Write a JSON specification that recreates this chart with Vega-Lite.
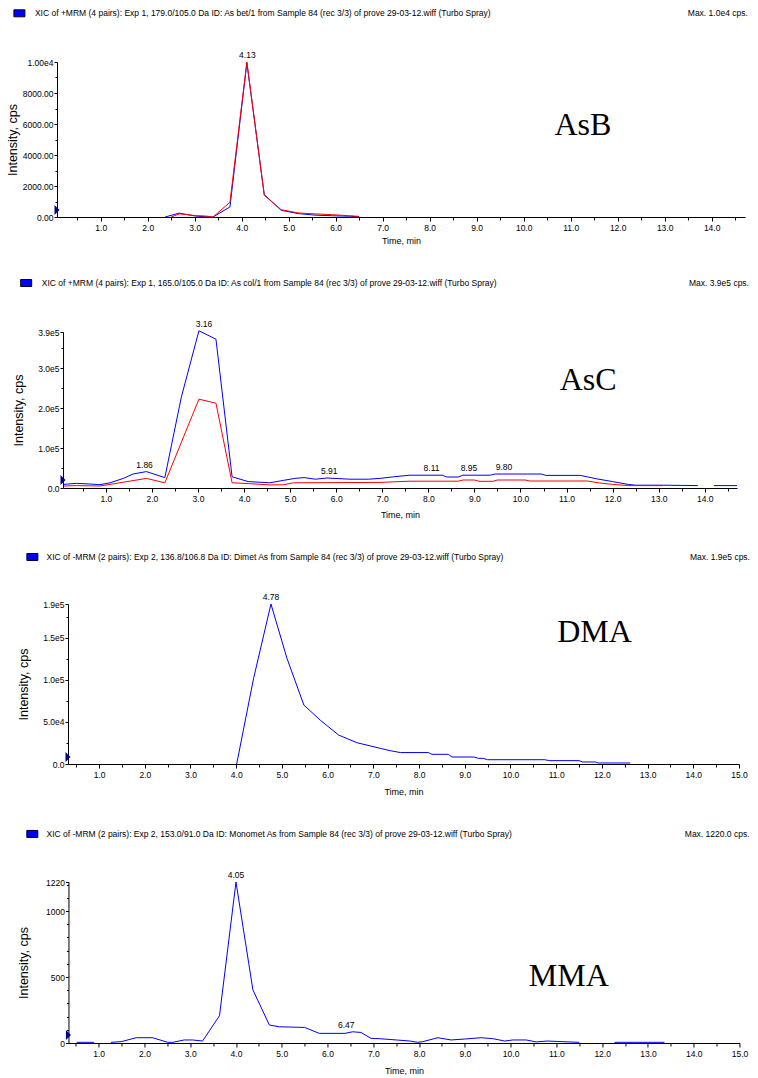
{
  "$schema": "https://vega.github.io/schema/vega-lite/v6.json",
  "background": "white",
  "padding": {"left": 6, "top": 7, "right": 0, "bottom": 0},
  "columns": 1,
  "center": true,
  "bounds": "full",
  "spacing": 32,
  "datasets": {
    "asb": [
      {"t": 2.37, "y": 0, "s": "blue", "g": "b1"}, {"t": 2.67, "y": 250, "s": "blue", "g": "b1"}, {"t": 2.9, "y": 120, "s": "blue", "g": "b1"}, {"t": 3.03, "y": 60, "s": "blue", "g": "b1"}, {"t": 3.2, "y": 20, "s": "blue", "g": "b1"}, {"t": 3.39, "y": 0, "s": "blue", "g": "b1"}, {"t": 3.75, "y": 650, "s": "blue", "g": "b1"}, {"t": 4.11, "y": 9950, "s": "blue", "g": "b1"}, {"t": 4.48, "y": 1450, "s": "blue", "g": "b1"}, {"t": 4.84, "y": 430, "s": "blue", "g": "b1"}, {"t": 5.2, "y": 220, "s": "blue", "g": "b1"}, {"t": 5.56, "y": 120, "s": "blue", "g": "b1"}, {"t": 5.93, "y": 80, "s": "blue", "g": "b1"}, {"t": 6.29, "y": 50, "s": "blue", "g": "b1"}, {"t": 6.5, "y": 20, "s": "blue", "g": "b1"},
      {"t": 2.5, "y": 0, "s": "red", "g": "r1"}, {"t": 2.67, "y": 200, "s": "red", "g": "r1"}, {"t": 2.85, "y": 150, "s": "red", "g": "r1"}, {"t": 3.03, "y": 80, "s": "red", "g": "r1"}, {"t": 3.2, "y": 70, "s": "red", "g": "r1"}, {"t": 3.39, "y": 0, "s": "red", "g": "r1"}, {"t": 3.75, "y": 950, "s": "red", "g": "r1"}, {"t": 4.11, "y": 10000, "s": "red", "g": "r1"}, {"t": 4.48, "y": 1400, "s": "red", "g": "r1"}, {"t": 4.84, "y": 470, "s": "red", "g": "r1"}, {"t": 5.2, "y": 260, "s": "red", "g": "r1"}, {"t": 5.56, "y": 200, "s": "red", "g": "r1"}, {"t": 5.93, "y": 150, "s": "red", "g": "r1"}, {"t": 6.29, "y": 80, "s": "red", "g": "r1"}, {"t": 6.5, "y": 40, "s": "red", "g": "r1"}
    ],
    "asb_pk": [{"t": 4.12, "y": 10000, "label": "4.13"}],
    "asc": [
      {"t": 0.09, "y": 9000, "s": "blue", "g": "b1"}, {"t": 0.36, "y": 11700, "s": "blue", "g": "b1"}, {"t": 0.65, "y": 10000, "s": "blue", "g": "b1"}, {"t": 0.87, "y": 8300, "s": "blue", "g": "b1"}, {"t": 1.09, "y": 13000, "s": "blue", "g": "b1"}, {"t": 1.38, "y": 24000, "s": "blue", "g": "b1"}, {"t": 1.59, "y": 35000, "s": "blue", "g": "b1"}, {"t": 1.88, "y": 41000, "s": "blue", "g": "b1"}, {"t": 2.28, "y": 26000, "s": "blue", "g": "b1"}, {"t": 2.64, "y": 228000, "s": "blue", "g": "b1"}, {"t": 3.02, "y": 393000, "s": "blue", "g": "b1"}, {"t": 3.39, "y": 372000, "s": "blue", "g": "b1"}, {"t": 3.74, "y": 28000, "s": "blue", "g": "b1"}, {"t": 4.09, "y": 16000, "s": "blue", "g": "b1"}, {"t": 4.56, "y": 13000, "s": "blue", "g": "b1"}, {"t": 4.85, "y": 19000, "s": "blue", "g": "b1"}, {"t": 5.1, "y": 24000, "s": "blue", "g": "b1"}, {"t": 5.3, "y": 26000, "s": "blue", "g": "b1"}, {"t": 5.55, "y": 22000, "s": "blue", "g": "b1"}, {"t": 5.8, "y": 25000, "s": "blue", "g": "b1"}, {"t": 6.3, "y": 22000, "s": "blue", "g": "b1"}, {"t": 6.7, "y": 22000, "s": "blue", "g": "b1"}, {"t": 6.95, "y": 24000, "s": "blue", "g": "b1"}, {"t": 7.24, "y": 28000, "s": "blue", "g": "b1"}, {"t": 7.6, "y": 32000, "s": "blue", "g": "b1"}, {"t": 8.3, "y": 32000, "s": "blue", "g": "b1"}, {"t": 8.4, "y": 27500, "s": "blue", "g": "b1"}, {"t": 8.65, "y": 27500, "s": "blue", "g": "b1"}, {"t": 8.75, "y": 32000, "s": "blue", "g": "b1"}, {"t": 9.35, "y": 32000, "s": "blue", "g": "b1"}, {"t": 9.45, "y": 35000, "s": "blue", "g": "b1"}, {"t": 10.45, "y": 35000, "s": "blue", "g": "b1"}, {"t": 10.55, "y": 31500, "s": "blue", "g": "b1"}, {"t": 11.3, "y": 31500, "s": "blue", "g": "b1"}, {"t": 11.45, "y": 28000, "s": "blue", "g": "b1"}, {"t": 11.65, "y": 23000, "s": "blue", "g": "b1"}, {"t": 12.0, "y": 16000, "s": "blue", "g": "b1"}, {"t": 12.34, "y": 9000, "s": "blue", "g": "b1"}, {"t": 12.5, "y": 7000, "s": "blue", "g": "b1"}, {"t": 13.1, "y": 7000, "s": "blue", "g": "b1"}, {"t": 13.85, "y": 6000, "s": "blue", "g": "b1"},
      {"t": 14.2, "y": 6000, "s": "blue", "g": "b2"}, {"t": 14.7, "y": 6000, "s": "blue", "g": "b2"},
      {"t": 0.09, "y": 5000, "s": "red", "g": "r1"}, {"t": 0.36, "y": 6000, "s": "red", "g": "r1"}, {"t": 0.87, "y": 5000, "s": "red", "g": "r1"}, {"t": 1.09, "y": 9000, "s": "red", "g": "r1"}, {"t": 1.88, "y": 24000, "s": "red", "g": "r1"}, {"t": 2.28, "y": 13000, "s": "red", "g": "r1"}, {"t": 3.02, "y": 222000, "s": "red", "g": "r1"}, {"t": 3.39, "y": 212000, "s": "red", "g": "r1"}, {"t": 3.74, "y": 13000, "s": "red", "g": "r1"}, {"t": 4.09, "y": 11000, "s": "red", "g": "r1"}, {"t": 4.56, "y": 7700, "s": "red", "g": "r1"}, {"t": 4.85, "y": 8000, "s": "red", "g": "r1"}, {"t": 5.07, "y": 13000, "s": "red", "g": "r1"}, {"t": 6.95, "y": 14000, "s": "red", "g": "r1"}, {"t": 7.6, "y": 17000, "s": "red", "g": "r1"}, {"t": 8.65, "y": 17000, "s": "red", "g": "r1"}, {"t": 8.75, "y": 20000, "s": "red", "g": "r1"}, {"t": 9.0, "y": 20000, "s": "red", "g": "r1"}, {"t": 9.1, "y": 16700, "s": "red", "g": "r1"}, {"t": 9.4, "y": 16700, "s": "red", "g": "r1"}, {"t": 9.5, "y": 20000, "s": "red", "g": "r1"}, {"t": 10.1, "y": 20000, "s": "red", "g": "r1"}, {"t": 10.2, "y": 17500, "s": "red", "g": "r1"}, {"t": 11.45, "y": 17500, "s": "red", "g": "r1"}, {"t": 11.72, "y": 12500, "s": "red", "g": "r1"}, {"t": 12.0, "y": 9000, "s": "red", "g": "r1"}, {"t": 12.34, "y": 6000, "s": "red", "g": "r1"}, {"t": 13.1, "y": 6000, "s": "red", "g": "r1"}
    ],
    "asc_pk": [
      {"t": 1.84, "y": 41000, "label": "1.86"}, {"t": 3.13, "y": 393000, "label": "3.16"}, {"t": 5.85, "y": 25000, "label": "5.91"}, {"t": 8.07, "y": 32000, "label": "8.11"}, {"t": 8.88, "y": 32000, "label": "8.95"}, {"t": 9.64, "y": 35000, "label": "9.80"}
    ],
    "dma": [
      {"t": 4.01, "y": 0, "s": "blue", "g": "b1"}, {"t": 4.38, "y": 101700, "s": "blue", "g": "b1"}, {"t": 4.76, "y": 190000, "s": "blue", "g": "b1"}, {"t": 5.11, "y": 125500, "s": "blue", "g": "b1"}, {"t": 5.48, "y": 70000, "s": "blue", "g": "b1"}, {"t": 5.84, "y": 52000, "s": "blue", "g": "b1"}, {"t": 6.24, "y": 34400, "s": "blue", "g": "b1"}, {"t": 6.64, "y": 25300, "s": "blue", "g": "b1"}, {"t": 7.15, "y": 18600, "s": "blue", "g": "b1"}, {"t": 7.37, "y": 15800, "s": "blue", "g": "b1"}, {"t": 7.59, "y": 13600, "s": "blue", "g": "b1"}, {"t": 8.2, "y": 13600, "s": "blue", "g": "b1"}, {"t": 8.28, "y": 11500, "s": "blue", "g": "b1"}, {"t": 8.64, "y": 11500, "s": "blue", "g": "b1"}, {"t": 8.72, "y": 8300, "s": "blue", "g": "b1"}, {"t": 9.2, "y": 8300, "s": "blue", "g": "b1"}, {"t": 9.3, "y": 6700, "s": "blue", "g": "b1"}, {"t": 9.4, "y": 6700, "s": "blue", "g": "b1"}, {"t": 9.5, "y": 5100, "s": "blue", "g": "b1"}, {"t": 10.75, "y": 5100, "s": "blue", "g": "b1"}, {"t": 10.85, "y": 4000, "s": "blue", "g": "b1"}, {"t": 11.5, "y": 4000, "s": "blue", "g": "b1"}, {"t": 11.58, "y": 2400, "s": "blue", "g": "b1"}, {"t": 11.86, "y": 2400, "s": "blue", "g": "b1"}, {"t": 11.92, "y": 1200, "s": "blue", "g": "b1"}, {"t": 12.62, "y": 1200, "s": "blue", "g": "b1"}
    ],
    "dma_pk": [{"t": 4.76, "y": 190000, "label": "4.78"}],
    "mma": [
      {"t": 0.52, "y": 5, "s": "blue", "g": "b1"}, {"t": 0.9, "y": 5, "s": "blue", "g": "b1"},
      {"t": 1.27, "y": 5, "s": "blue", "g": "b2"}, {"t": 1.49, "y": 10, "s": "blue", "g": "b2"}, {"t": 1.82, "y": 40, "s": "blue", "g": "b2"}, {"t": 2.18, "y": 40, "s": "blue", "g": "b2"}, {"t": 2.51, "y": 5, "s": "blue", "g": "b2"}, {"t": 2.62, "y": 5, "s": "blue", "g": "b2"}, {"t": 2.87, "y": 23, "s": "blue", "g": "b2"}, {"t": 3.05, "y": 23, "s": "blue", "g": "b2"}, {"t": 3.27, "y": 15, "s": "blue", "g": "b2"}, {"t": 3.64, "y": 207, "s": "blue", "g": "b2"}, {"t": 4.0, "y": 1220, "s": "blue", "g": "b2"}, {"t": 4.37, "y": 402, "s": "blue", "g": "b2"}, {"t": 4.73, "y": 136, "s": "blue", "g": "b2"}, {"t": 4.95, "y": 123, "s": "blue", "g": "b2"}, {"t": 5.5, "y": 118, "s": "blue", "g": "b2"}, {"t": 5.82, "y": 73, "s": "blue", "g": "b2"}, {"t": 6.38, "y": 73, "s": "blue", "g": "b2"}, {"t": 6.55, "y": 85, "s": "blue", "g": "b2"}, {"t": 6.73, "y": 80, "s": "blue", "g": "b2"}, {"t": 6.95, "y": 35, "s": "blue", "g": "b2"}, {"t": 7.13, "y": 33, "s": "blue", "g": "b2"}, {"t": 7.5, "y": 23, "s": "blue", "g": "b2"}, {"t": 7.8, "y": 15, "s": "blue", "g": "b2"}, {"t": 7.97, "y": 5, "s": "blue", "g": "b2"}, {"t": 8.08, "y": 10, "s": "blue", "g": "b2"}, {"t": 8.41, "y": 40, "s": "blue", "g": "b2"}, {"t": 8.7, "y": 23, "s": "blue", "g": "b2"}, {"t": 8.99, "y": 30, "s": "blue", "g": "b2"}, {"t": 9.36, "y": 40, "s": "blue", "g": "b2"}, {"t": 9.61, "y": 33, "s": "blue", "g": "b2"}, {"t": 9.87, "y": 15, "s": "blue", "g": "b2"}, {"t": 10.05, "y": 23, "s": "blue", "g": "b2"}, {"t": 10.34, "y": 23, "s": "blue", "g": "b2"}, {"t": 10.56, "y": 8, "s": "blue", "g": "b2"}, {"t": 10.8, "y": 15, "s": "blue", "g": "b2"}, {"t": 11.14, "y": 10, "s": "blue", "g": "b2"}, {"t": 11.5, "y": 5, "s": "blue", "g": "b2"},
      {"t": 12.27, "y": 5, "s": "blue", "g": "b3"}, {"t": 13.36, "y": 5, "s": "blue", "g": "b3"}
    ],
    "mma_pk": [{"t": 4.0, "y": 1220, "label": "4.05"}, {"t": 6.41, "y": 85, "label": "6.47"}]
  },
  "concat": [
    {
      "width": 688, "height": 155,
      "resolve": {"axis": {"x": "independent", "y": "independent"}},
      "layer": [
        {"data": {"name": "asb"}, "mark": {"type": "line", "strokeWidth": 1},
         "encoding": {
           "x": {"field": "t", "type": "quantitative", "scale": {"domain": [0.07, 14.71], "nice": false, "zero": false}, "axis": {"values": [1,2,3,4,5,6,7,8,9,10,11,12,13,14], "title": "Time, min", "titlePadding": 4.5, "labelOverlap": false}},
           "y": {"field": "y", "type": "quantitative", "scale": {"domain": [0, 10000], "nice": false}, "axis": {"values": [0,2000,4000,6000,8000,10000], "labelExpr": "datum.value == 10000 ? '1.00e4' : format(datum.value, '.2f')", "titleX": -45, "labelOverlap": false}, "title": "Intensity, cps"},
           "color": {"field": "s", "type": "nominal", "scale": {"domain": ["blue","red"], "range": ["#0000ff","#ff0000"]}, "legend": null},
           "detail": {"field": "g", "type": "nominal"}
         }},
        {"data": {"name": "asb_pk"}, "mark": {"type": "text", "baseline": "bottom", "dy": -2, "font": "Liberation Sans", "fontSize": 8.5, "color": "#000000"},
         "encoding": {
           "x": {"field": "t", "type": "quantitative", "axis": {"orient": "bottom", "values": [0.5,1.5,2.5,3.5,4.5,5.5,6.5,7.5,8.5,9.5,10.5,11.5,12.5,13.5,14.5], "labels": false, "domain": false, "tickSize": 3, "title": null}},
           "y": {"field": "y", "type": "quantitative", "axis": {"orient": "left", "values": [1000,3000,5000,7000,9000], "labels": false, "domain": false, "tickSize": 2, "title": null}},
           "text": {"field": "label"}
         }},
        {"data": {"values": [{}]}, "mark": {"type": "point", "shape": "M-1,-0.636L1,-0.636L1,0.636L-1,0.636Z", "size": 121, "filled": true, "fill": "#0000ff", "stroke": "#000033", "strokeWidth": 1, "opacity": 1},
         "encoding": {"x": {"datum": -0.73, "type": "quantitative", "axis": null}, "y": {"datum": 13142, "type": "quantitative", "axis": null}}},
        {"data": {"values": [{}]}, "mark": {"type": "text", "text": "XIC of +MRM (4 pairs): Exp 1, 179.0/105.0 Da ID: As bet/1 from Sample 84 (rec 3/3) of prove 29-03-12.wiff (Turbo Spray)", "align": "left", "baseline": "middle", "font": "Liberation Sans", "fontSize": 8.5, "color": "#000000"},
         "encoding": {"x": {"datum": -0.40, "type": "quantitative", "axis": null}, "y": {"datum": 13142, "type": "quantitative", "axis": null}}},
        {"data": {"values": [{}]}, "mark": {"type": "text", "text": "Max. 1.0e4 cps.", "align": "right", "baseline": "middle", "font": "Liberation Sans", "fontSize": 8.5, "color": "#000000"},
         "encoding": {"x": {"datum": 14.77, "type": "quantitative", "axis": null}, "y": {"datum": 13142, "type": "quantitative", "axis": null}}},
        {"data": {"values": [{}]}, "mark": {"type": "text", "text": "AsB", "align": "center", "baseline": "middle", "font": "Liberation Serif", "fontSize": 32, "color": "#000000"},
         "encoding": {"x": {"datum": 11.26, "type": "quantitative", "axis": null}, "y": {"datum": 5935, "type": "quantitative", "axis": null}}},
        {"data": {"values": [{}]}, "mark": {"type": "point", "shape": "M-0.5,-1L0.5,0L-0.5,1Z", "size": 100, "filled": true, "fill": "#00008b", "opacity": 1},
         "encoding": {"x": {"datum": 0.07, "type": "quantitative", "axis": null}, "y": {"datum": 450, "type": "quantitative", "axis": null}}},
        {"data": {"values": [{}]}, "mark": {"type": "text", "text": "|", "align": "right", "baseline": "middle", "opacity": 0},
         "encoding": {"x": {"datum": 15.05, "type": "quantitative", "axis": null}, "y": {"datum": 0, "type": "quantitative", "axis": null}}}
      ]
    },
    {
      "width": 674, "height": 156,
      "resolve": {"axis": {"x": "independent", "y": "independent"}},
      "layer": [
        {"data": {"name": "asc"}, "mark": {"type": "line", "strokeWidth": 1},
         "encoding": {
           "x": {"field": "t", "type": "quantitative", "scale": {"domain": [0.07, 14.7], "nice": false, "zero": false}, "axis": {"values": [1,2,3,4,5,6,7,8,9,10,11,12,13,14], "title": "Time, min", "titlePadding": 7.5, "labelOverlap": false}},
           "y": {"field": "y", "type": "quantitative", "scale": {"domain": [0, 390000], "nice": false}, "axis": {"values": [0,100000,200000,300000,390000], "labelExpr": "datum.value == 0 ? '0.0' : format(datum.value / 100000, '.1f') + 'e5'", "titleX": -45, "labelOverlap": false}, "title": "Intensity, cps"},
           "color": {"field": "s", "type": "nominal", "scale": {"domain": ["blue","red"], "range": ["#0000ff","#ff0000"]}, "legend": null},
           "detail": {"field": "g", "type": "nominal"}
         }},
        {"data": {"name": "asc_pk"}, "mark": {"type": "text", "baseline": "bottom", "dy": -2, "font": "Liberation Sans", "fontSize": 8.5, "color": "#000000"},
         "encoding": {
           "x": {"field": "t", "type": "quantitative", "axis": {"orient": "bottom", "values": [0.5,1.5,2.5,3.5,4.5,5.5,6.5,7.5,8.5,9.5,10.5,11.5,12.5,13.5,14.5], "labels": false, "domain": false, "tickSize": 3, "title": null}},
           "y": {"field": "y", "type": "quantitative", "axis": {"orient": "left", "values": [50000,150000,250000,350000], "labels": false, "domain": false, "tickSize": 2, "title": null}},
           "text": {"field": "label"}
         }},
        {"data": {"values": [{}]}, "mark": {"type": "point", "shape": "M-1,-0.636L1,-0.636L1,0.636L-1,0.636Z", "size": 121, "filled": true, "fill": "#0000ff", "stroke": "#000033", "strokeWidth": 1, "opacity": 1},
         "encoding": {"x": {"datum": -0.73, "type": "quantitative", "axis": null}, "y": {"datum": 512500, "type": "quantitative", "axis": null}}},
        {"data": {"values": [{}]}, "mark": {"type": "text", "text": "XIC of +MRM (4 pairs): Exp 1, 165.0/105.0 Da ID: As col/1 from Sample 84 (rec 3/3) of prove 29-03-12.wiff (Turbo Spray)", "align": "left", "baseline": "middle", "font": "Liberation Sans", "fontSize": 8.5, "color": "#000000"},
         "encoding": {"x": {"datum": -0.39, "type": "quantitative", "axis": null}, "y": {"datum": 512500, "type": "quantitative", "axis": null}}},
        {"data": {"values": [{}]}, "mark": {"type": "text", "text": "Max. 3.9e5 cps.", "align": "right", "baseline": "middle", "font": "Liberation Sans", "fontSize": 8.5, "color": "#000000"},
         "encoding": {"x": {"datum": 14.96, "type": "quantitative", "axis": null}, "y": {"datum": 512500, "type": "quantitative", "axis": null}}},
        {"data": {"values": [{}]}, "mark": {"type": "text", "text": "AsC", "align": "center", "baseline": "middle", "font": "Liberation Serif", "fontSize": 32, "color": "#000000"},
         "encoding": {"x": {"datum": 11.47, "type": "quantitative", "axis": null}, "y": {"datum": 270000, "type": "quantitative", "axis": null}}},
        {"data": {"values": [{}]}, "mark": {"type": "point", "shape": "M-0.5,-1L0.5,0L-0.5,1Z", "size": 100, "filled": true, "fill": "#00008b", "opacity": 1},
         "encoding": {"x": {"datum": 0.07, "type": "quantitative", "axis": null}, "y": {"datum": 20000, "type": "quantitative", "axis": null}}},
        {"data": {"values": [{}]}, "mark": {"type": "text", "text": "|", "align": "right", "baseline": "middle", "opacity": 0},
         "encoding": {"x": {"datum": 15.09, "type": "quantitative", "axis": null}, "y": {"datum": 0, "type": "quantitative", "axis": null}}}
      ]
    },
    {
      "width": 671, "height": 160,
      "resolve": {"axis": {"x": "independent", "y": "independent"}},
      "layer": [
        {"data": {"name": "dma"}, "mark": {"type": "line", "strokeWidth": 1},
         "encoding": {
           "x": {"field": "t", "type": "quantitative", "scale": {"domain": [0.32, 15.0], "nice": false, "zero": false}, "axis": {"values": [1,2,3,4,5,6,7,8,9,10,11,12,13,14,15], "title": "Time, min", "titlePadding": 8.5, "labelOverlap": false}},
           "y": {"field": "y", "type": "quantitative", "scale": {"domain": [0, 190000], "nice": false}, "axis": {"values": [0,50000,100000,150000,190000], "labelExpr": "datum.value == 0 ? '0.0' : (datum.value < 100000 ? format(datum.value / 10000, '.1f') + 'e4' : format(datum.value / 100000, '.1f') + 'e5')", "titleX": -45, "labelOverlap": false}, "title": "Intensity, cps"},
           "color": {"field": "s", "type": "nominal", "scale": {"domain": ["blue","red"], "range": ["#0000ff","#ff0000"]}, "legend": null},
           "detail": {"field": "g", "type": "nominal"}
         }},
        {"data": {"name": "dma_pk"}, "mark": {"type": "text", "baseline": "bottom", "dy": -2, "font": "Liberation Sans", "fontSize": 8.5, "color": "#000000"},
         "encoding": {
           "x": {"field": "t", "type": "quantitative", "axis": {"orient": "bottom", "values": [0.5,1.5,2.5,3.5,4.5,5.5,6.5,7.5,8.5,9.5,10.5,11.5,12.5,13.5,14.5], "labels": false, "domain": false, "tickSize": 3, "title": null}},
           "y": {"field": "y", "type": "quantitative", "axis": {"orient": "left", "values": [25000,75000,125000,175000], "labels": false, "domain": false, "tickSize": 2, "title": null}},
           "text": {"field": "label"}
         }},
        {"data": {"values": [{}]}, "mark": {"type": "point", "shape": "M-1,-0.636L1,-0.636L1,0.636L-1,0.636Z", "size": 121, "filled": true, "fill": "#0000ff", "stroke": "#000033", "strokeWidth": 1, "opacity": 1},
         "encoding": {"x": {"datum": -0.46, "type": "quantitative", "axis": null}, "y": {"datum": 245810, "type": "quantitative", "axis": null}}},
        {"data": {"values": [{}]}, "mark": {"type": "text", "text": "XIC of -MRM (2 pairs): Exp 2, 136.8/106.8 Da ID: Dimet As from Sample 84 (rec 3/3) of prove 29-03-12.wiff (Turbo Spray)", "align": "left", "baseline": "middle", "font": "Liberation Sans", "fontSize": 8.5, "color": "#000000"},
         "encoding": {"x": {"datum": -0.15, "type": "quantitative", "axis": null}, "y": {"datum": 245810, "type": "quantitative", "axis": null}}},
        {"data": {"values": [{}]}, "mark": {"type": "text", "text": "Max. 1.9e5 cps.", "align": "right", "baseline": "middle", "font": "Liberation Sans", "fontSize": 8.5, "color": "#000000"},
         "encoding": {"x": {"datum": 15.24, "type": "quantitative", "axis": null}, "y": {"datum": 245810, "type": "quantitative", "axis": null}}},
        {"data": {"values": [{}]}, "mark": {"type": "text", "text": "DMA", "align": "center", "baseline": "middle", "font": "Liberation Serif", "fontSize": 32, "color": "#000000"},
         "encoding": {"x": {"datum": 11.84, "type": "quantitative", "axis": null}, "y": {"datum": 156200, "type": "quantitative", "axis": null}}},
        {"data": {"values": [{}]}, "mark": {"type": "point", "shape": "M-0.5,-1L0.5,0L-0.5,1Z", "size": 100, "filled": true, "fill": "#00008b", "opacity": 1},
         "encoding": {"x": {"datum": 0.32, "type": "quantitative", "axis": null}, "y": {"datum": 8300, "type": "quantitative", "axis": null}}}
      ]
    },
    {
      "width": 671, "height": 161,
      "resolve": {"axis": {"x": "independent", "y": "independent"}},
      "layer": [
        {"data": {"name": "mma"}, "mark": {"type": "line", "strokeWidth": 1},
         "encoding": {
           "x": {"field": "t", "type": "quantitative", "scale": {"domain": [0.34, 15.0], "nice": false, "zero": false}, "axis": {"values": [1,2,3,4,5,6,7,8,9,10,11,12,13,14,15], "title": "Time, min", "titlePadding": 9.2, "labelOverlap": false}},
           "y": {"field": "y", "type": "quantitative", "scale": {"domain": [0, 1220], "nice": false}, "axis": {"values": [0,500,1000,1220], "format": "d", "titleX": -45, "labelOverlap": false}, "title": "Intensity, cps"},
           "color": {"field": "s", "type": "nominal", "scale": {"domain": ["blue","red"], "range": ["#0000ff","#ff0000"]}, "legend": null},
           "detail": {"field": "g", "type": "nominal"}
         }},
        {"data": {"name": "mma_pk"}, "mark": {"type": "text", "baseline": "bottom", "dy": -2, "font": "Liberation Sans", "fontSize": 8.5, "color": "#000000"},
         "encoding": {
           "x": {"field": "t", "type": "quantitative", "axis": {"orient": "bottom", "values": [0.5,1.5,2.5,3.5,4.5,5.5,6.5,7.5,8.5,9.5,10.5,11.5,12.5,13.5,14.5], "labels": false, "domain": false, "tickSize": 3, "title": null}},
           "y": {"field": "y", "type": "quantitative", "axis": {"orient": "left", "values": [100,200,300,400,600,700,800,900,1100,1200], "labels": false, "domain": false, "tickSize": 2, "title": null}},
           "text": {"field": "label"}
         }},
        {"data": {"values": [{}]}, "mark": {"type": "point", "shape": "M-1,-0.636L1,-0.636L1,0.636L-1,0.636Z", "size": 121, "filled": true, "fill": "#0000ff", "stroke": "#000033", "strokeWidth": 1, "opacity": 1},
         "encoding": {"x": {"datum": -0.45, "type": "quantitative", "axis": null}, "y": {"datum": 1584, "type": "quantitative", "axis": null}}},
        {"data": {"values": [{}]}, "mark": {"type": "text", "text": "XIC of -MRM (2 pairs): Exp 2, 153.0/91.0 Da ID: Monomet As from Sample 84 (rec 3/3) of prove 29-03-12.wiff (Turbo Spray)", "align": "left", "baseline": "middle", "font": "Liberation Sans", "fontSize": 8.5, "color": "#000000"},
         "encoding": {"x": {"datum": -0.14, "type": "quantitative", "axis": null}, "y": {"datum": 1584, "type": "quantitative", "axis": null}}},
        {"data": {"values": [{}]}, "mark": {"type": "text", "text": "Max. 1220.0 cps.", "align": "right", "baseline": "middle", "font": "Liberation Sans", "fontSize": 8.5, "color": "#000000"},
         "encoding": {"x": {"datum": 15.22, "type": "quantitative", "axis": null}, "y": {"datum": 1584, "type": "quantitative", "axis": null}}},
        {"data": {"values": [{}]}, "mark": {"type": "text", "text": "MMA", "align": "center", "baseline": "middle", "font": "Liberation Serif", "fontSize": 32, "color": "#000000"},
         "encoding": {"x": {"datum": 11.27, "type": "quantitative", "axis": null}, "y": {"datum": 511, "type": "quantitative", "axis": null}}},
        {"data": {"values": [{}]}, "mark": {"type": "point", "shape": "M-0.5,-1L0.5,0L-0.5,1Z", "size": 100, "filled": true, "fill": "#00008b", "opacity": 1},
         "encoding": {"x": {"datum": 0.34, "type": "quantitative", "axis": null}, "y": {"datum": 61, "type": "quantitative", "axis": null}}}
      ]
    }
  ],
  "config": {
    "font": "Liberation Sans",
    "view": {"stroke": null},
    "axis": {"grid": false, "domainColor": "#000000", "tickColor": "#000000", "labelColor": "#000000", "labelFont": "Liberation Sans", "labelFontSize": 8.5, "titleFont": "Liberation Sans", "titleFontWeight": "normal", "titleColor": "#000000", "domainWidth": 1, "tickWidth": 1, "labelOverlap": false, "labelBound": false},
    "axisX": {"titleFontSize": 9, "tickSize": 4, "labelPadding": 2, "labelFlush": false, "format": ".1f"},
    "axisY": {"titleFontSize": 12.5, "tickSize": 3, "labelPadding": 1, "titleBaseline": "middle"}
  }
}
